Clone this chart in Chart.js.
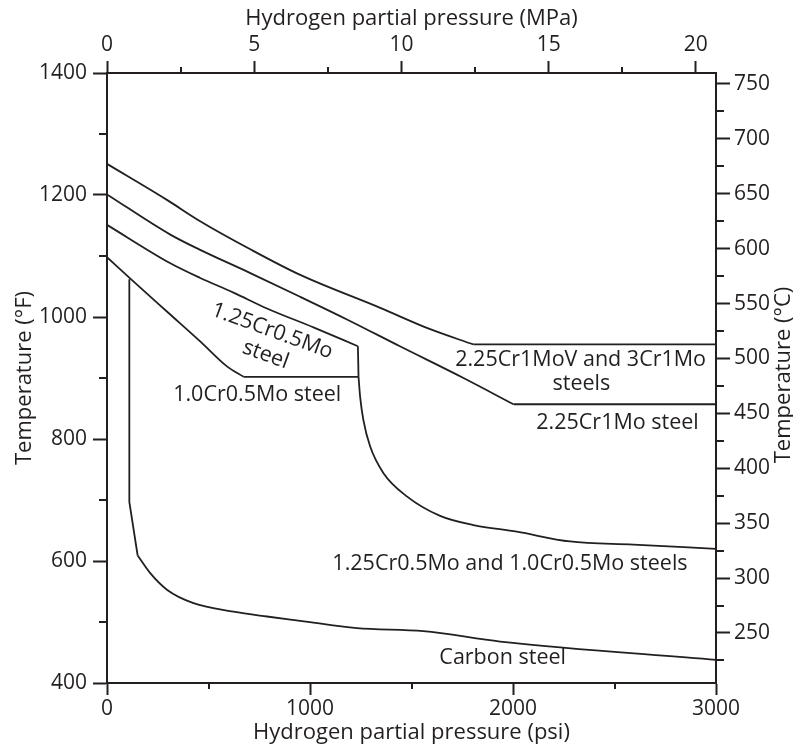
<!DOCTYPE html>
<html>
<head>
<meta charset="utf-8">
<script src="https://cdn.jsdelivr.net/npm/chart.js@4.4.1/dist/chart.umd.min.js"></script>
<style>
    html, body { margin: 0; padding: 0; background: #fff; }
    #wrap { width: 793px; height: 747px; }
</style>
</head>
<body>
<div id="wrap"><canvas id="hc" width="793" height="747"></canvas></div>
<script>
/* ── Data: curves (psi, °F) ─────────────────────────────────────────── */
const MOV_PSI  = [0, 295, 459, 706, 952, 1346, 1592, 1805, 3000];
const MOV_F    = [1251, 1192, 1157, 1111, 1069, 1015, 980, 955, 955];

const CRMO_PSI = [0, 312, 459, 706, 952, 1182, 1443, 1756, 2002, 3000];
const CRMO_F   = [1201, 1135, 1110, 1072, 1033, 996, 952, 900, 857, 857];

const CR125_PSI = [0, 312, 459, 623, 788, 1017, 1236, 1239, 1247, 1263, 1296, 1362, 1477, 1641, 1805, 2019, 2281, 2593, 3000];
const CR125_F   = [1151, 1088, 1064, 1040, 1014, 983, 952, 902, 869, 831, 788, 744, 706, 674, 659, 648, 632, 627, 620];

const CR10_PSI = [0, 115, 295, 459, 591, 673, 1239];
const CR10_F   = [1098, 1063, 1009, 960, 919, 902, 902];

const CS_PSI = [110, 110, 151, 213, 295, 426, 623, 788, 952, 1231, 1559, 1937, 3000];
const CS_F   = [1062, 697, 609, 580, 553, 531, 517, 509, 502, 490, 485, 468, 438];

/* ── Tick values ───────────────────────────────────────────────────── */
const PSI_MAJOR = [0, 1000, 2000, 3000];
const PSI_MINOR = [500, 1500, 2500];
const MPA_MAJOR = [0, 5, 10, 15, 20];
const MPA_MINOR = [2.5, 7.5, 12.5, 17.5];
const F_MAJOR   = [400, 600, 800, 1000, 1200, 1400];
const F_MINOR   = [500, 700, 900, 1100, 1300];
const C_MAJOR   = [250, 300, 350, 400, 450, 500, 550, 600, 650, 700, 750];
const C_MINOR   = [225, 275, 325, 375, 425, 475, 525, 575, 625, 675, 725];

/* ── Region labels (text, psi, °F, rotation deg) ───────────────────── */
const NOTES = [
    ['1.25Cr0.5Mo', 814, 977, 20],
    ['steel', 781, 938, 20],
    ['1.0Cr0.5Mo steel', 740, 872, 0],
    ['2.25Cr1MoV and 3Cr1Mo', 2333, 929, 0],
    ['steels', 2337, 890, 0],
    ['2.25Cr1Mo steel', 2515, 826, 0],
    ['1.25Cr0.5Mo and 1.0Cr0.5Mo steels', 1985, 595, 0],
    ['Carbon steel', 1949, 441, 0],
];

const PSI_PER_MPA = 145.0377;
const INK  = '#231f20';
const FONT = "'Open Sans', sans-serif";

Chart.defaults.font.family = FONT;
Chart.defaults.font.size   = 21;
Chart.defaults.color       = INK;

/* piece of a curve between two indices; smooth pieces use monotone cubic */
function piece(xs, ys, from, to, smooth) {
    const data = [];
    for (let i = from; i <= to; i++) data.push({ x: xs[i], y: ys[i] });
    return {
        data,
        borderColor: INK,
        borderWidth: 1.8,
        pointRadius: 0,
        cubicInterpolationMode: smooth ? 'monotone' : 'default',
        tension: 0,
        fill: false,
        xAxisID: 'x',
        yAxisID: 'y',
    };
}

/* ── Minor ticks + labels plugin ───────────────────────────────────── */
const extras = {
    id: 'extras',
    afterDraw(chart) {
        const { ctx } = chart;
        ctx.save();
        ctx.strokeStyle = INK;
        ctx.lineWidth = 2;
        Object.values(chart.scales).forEach(s => {
            const o = s.options;
            if (!o.minor) return;
            o.minor.forEach(v => {
                const p = Math.round(s.getPixelForValue(v));
                ctx.beginPath();
                if (s.position === 'left')   { ctx.moveTo(s.right - o.minorLen, p); ctx.lineTo(s.right, p); }
                if (s.position === 'right')  { ctx.moveTo(s.left, p); ctx.lineTo(s.left + o.minorLen, p); }
                if (s.position === 'bottom') { ctx.moveTo(p, s.top); ctx.lineTo(p, s.top + o.minorLen); }
                if (s.position === 'top')    { ctx.moveTo(p, s.bottom - o.minorLen); ctx.lineTo(p, s.bottom); }
                ctx.stroke();
            });
        });

        // in-plot labels
        const xs = chart.scales.x, ys = chart.scales.y;
        ctx.fillStyle = INK;
        ctx.font = `21.5px ${FONT}`;
        ctx.textAlign = 'center';
        ctx.textBaseline = 'middle';
        NOTES.forEach(([t, psi, f, rot]) => {
            ctx.save();
            ctx.translate(xs.getPixelForValue(psi), ys.getPixelForValue(f));
            ctx.rotate(rot * Math.PI / 180);
            ctx.fillText(t, 0, 0);
            ctx.restore();
        });

        // right-hand title (reads bottom to top)
        const r = chart.scales.y2;
        ctx.font = `22px ${FONT}`;
        ctx.save();
        ctx.translate(r.right - 9, (chart.chartArea.top + chart.chartArea.bottom) / 2 - 3);
        ctx.rotate(-Math.PI / 2);
        ctx.fillText('Temperature (°C)', 0, 0);
        ctx.restore();
        ctx.restore();
    },
};

const gridOpts = len => ({
    drawOnChartArea: false,
    tickLength: len,
    tickWidth: 2,
    tickColor: INK,
    color: INK,
});
const border = { display: true, color: INK, width: 2 };
const setTicks = vals => s => { s.ticks = vals.map(v => ({ value: v })); };
const plain = v => String(v);
const titleFont = { size: 22 };

/* ── Chart ─────────────────────────────────────────────────────────── */
new Chart(document.getElementById('hc'), {
    type: 'line',
    data: {
        datasets: [
            piece(MOV_PSI, MOV_F, 0, 7, true),
            piece(MOV_PSI, MOV_F, 7, 8, false),
            piece(CRMO_PSI, CRMO_F, 0, 8, true),
            piece(CRMO_PSI, CRMO_F, 8, 9, false),
            piece(CR125_PSI, CR125_F, 0, 6, true),
            piece(CR125_PSI, CR125_F, 6, 7, false),
            piece(CR125_PSI, CR125_F, 7, 18, true),
            piece(CR10_PSI, CR10_F, 0, 5, true),
            piece(CR10_PSI, CR10_F, 5, 6, false),
            piece(CS_PSI, CS_F, 0, 2, false),
            piece(CS_PSI, CS_F, 2, 12, true),
        ],
    },
    options: {
        responsive: false,
        animation: false,
        layout: { padding: 0 },
        plugins: { legend: { display: false }, tooltip: { enabled: false } },
        scales: {
            x: {
                type: 'linear', position: 'bottom',
                min: 0, max: 3000,
                grid: gridOpts(12), border,
                minor: PSI_MINOR, minorLen: 6,
                afterBuildTicks: setTicks(PSI_MAJOR),
                afterFit: s => { s.height = 64; },
                ticks: { padding: 1, maxRotation: 0, autoSkip: false, callback: plain },
                title: { display: true, text: 'Hydrogen partial pressure (psi)', font: titleFont, padding: { top: 0, bottom: 1 } },
            },
            x2: {
                type: 'linear', position: 'top',
                min: 0, max: 3000 / PSI_PER_MPA,
                grid: gridOpts(12), border,
                minor: MPA_MINOR, minorLen: 6,
                afterBuildTicks: setTicks(MPA_MAJOR),
                afterFit: s => { s.height = 73; },
                ticks: { padding: 3, maxRotation: 0, autoSkip: false, callback: plain },
                title: { display: true, text: 'Hydrogen partial pressure (MPa)', font: titleFont, padding: { top: 6, bottom: 0 } },
            },
            y: {
                type: 'linear', position: 'left',
                min: 400, max: 1400,
                grid: gridOpts(14), border,
                minor: F_MINOR, minorLen: 8,
                afterBuildTicks: setTicks(F_MAJOR),
                afterFit: s => { s.width = 107; },
                ticks: { padding: 6, autoSkip: false, callback: plain },
                title: { display: true, text: 'Temperature (°F)', font: titleFont, padding: { top: 12, bottom: 0 } },
            },
            y2: {
                type: 'linear', position: 'right',
                min: (400 - 32) / 1.8, max: (1400 - 32) / 1.8,
                grid: gridOpts(14), border,
                minor: C_MINOR, minorLen: 8,
                afterBuildTicks: setTicks(C_MAJOR),
                afterFit: s => { s.width = 77; },
                ticks: { padding: 4, autoSkip: false, callback: plain },
            },
        },
    },
    plugins: [extras],
});
</script>
</body>
</html>
